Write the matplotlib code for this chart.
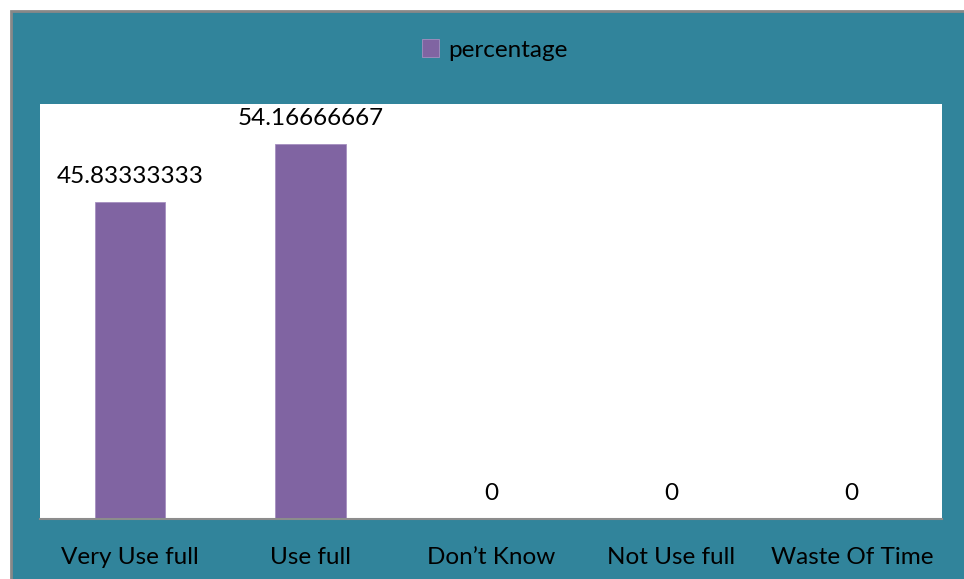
import matplotlib.pyplot as plt
from matplotlib.patches import Rectangle

categories = ["Very Use full", "Use full", "Don\u2019t Know", "Not Use full", "Waste Of Time"]
percentage = [45.83333333, 54.16666667, 0, 0, 0]
value_labels = ["45.83333333", "54.16666667", "0", "0", "0"]

teal = "#31849B"
purple = "#8064A2"

plt.rcParams['font.family'] = ['Lato', 'DejaVu Sans']

fig = plt.figure(figsize=(9.64, 5.79), dpi=100)
fig.patch.set_facecolor("white")

# teal chart area with grey frame on top and left
fig.patches.append(Rectangle((11 / 964, -0.01), 1.0, 1 - 11 / 579 + 0.01,
                             transform=fig.transFigure, facecolor=teal,
                             edgecolor="#888888", linewidth=2, zorder=-5))

ax = fig.add_axes([40 / 964, 1 - 519 / 579, 902 / 964, 415 / 579])
ax.set_facecolor("white")
x = range(len(categories))
bars = ax.bar(x, percentage, width=0.39, color=purple, edgecolor="#A58FC0", linewidth=0.6, label="percentage")
ax.set_xlim(-0.5, len(categories) - 0.5)
ax.set_ylim(0, 60)
ax.set_yticks([])
ax.set_xticks(list(x))
ax.set_xticklabels(categories, fontsize=17.5)
ax.tick_params(axis="x", length=0, pad=20)
for s in ["top", "left", "right"]:
    ax.spines[s].set_visible(False)
ax.spines["bottom"].set_color("#8C8C8C")
ax.spines["bottom"].set_linewidth(1.5)

for xi, v, lab in zip(x, percentage, value_labels):
    ax.annotate(lab, (xi, v), xytext=(0, 11), textcoords="offset points",
                ha="center", va="bottom", fontsize=17.5)

fig.legend(handles=[bars], labels=["percentage"], loc="center",
           bbox_to_anchor=(495 / 964, 1 - 50 / 579), frameon=False,
           fontsize=17.5, handlelength=0.7, handleheight=0.7, handletextpad=0.4)

fig.savefig("out.png", dpi=100, facecolor=fig.get_facecolor())
